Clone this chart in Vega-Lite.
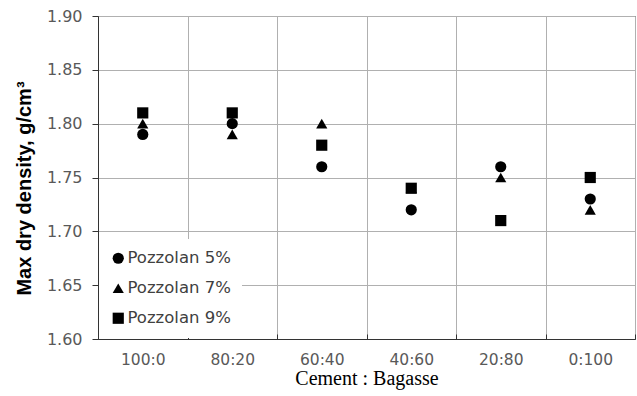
{
  "$schema": "https://vega.github.io/schema/vega-lite/v6.json",
  "width": 537,
  "height": 323,
  "autosize": {"type": "none"},
  "padding": {"left": 98, "top": 16, "right": 2, "bottom": 57},
  "config": {
    "font": "DejaVu Sans",
    "view": {"stroke": "#222222", "strokeWidth": 1}
  },
  "data": {
    "values": [
      {"ratio": "100:0", "mix": "Pozzolan 5%", "density": 1.79},
      {"ratio": "80:20", "mix": "Pozzolan 5%", "density": 1.80},
      {"ratio": "60:40", "mix": "Pozzolan 5%", "density": 1.76},
      {"ratio": "40:60", "mix": "Pozzolan 5%", "density": 1.72},
      {"ratio": "20:80", "mix": "Pozzolan 5%", "density": 1.76},
      {"ratio": "0:100", "mix": "Pozzolan 5%", "density": 1.73},
      {"ratio": "100:0", "mix": "Pozzolan 7%", "density": 1.80},
      {"ratio": "80:20", "mix": "Pozzolan 7%", "density": 1.79},
      {"ratio": "60:40", "mix": "Pozzolan 7%", "density": 1.80},
      {"ratio": "40:60", "mix": "Pozzolan 7%", "density": 1.74},
      {"ratio": "20:80", "mix": "Pozzolan 7%", "density": 1.75},
      {"ratio": "0:100", "mix": "Pozzolan 7%", "density": 1.72},
      {"ratio": "100:0", "mix": "Pozzolan 9%", "density": 1.81},
      {"ratio": "80:20", "mix": "Pozzolan 9%", "density": 1.81},
      {"ratio": "60:40", "mix": "Pozzolan 9%", "density": 1.78},
      {"ratio": "40:60", "mix": "Pozzolan 9%", "density": 1.74},
      {"ratio": "20:80", "mix": "Pozzolan 9%", "density": 1.71},
      {"ratio": "0:100", "mix": "Pozzolan 9%", "density": 1.75}
    ]
  },
  "mark": {"type": "point", "filled": true, "opacity": 1, "color": "black", "size": 125},
  "encoding": {
    "x": {
      "field": "ratio",
      "type": "nominal",
      "sort": ["100:0", "80:20", "60:40", "40:60", "20:80", "0:100"],
      "scale": {"paddingInner": 0, "paddingOuter": 0},
      "axis": {
        "title": "Cement : Bagasse",
        "labelAngle": 0,
        "tickBand": "extent",
        "grid": true,
        "gridColor": "#b0b0b0",
        "domainColor": "#333333",
        "tickColor": "#333333",
        "tickSize": -5,
        "labelPadding": 18,
        "labelFont": "DejaVu Sans",
        "labelFontSize": 15.5,
        "labelColor": "#595959",
        "titleFont": "Liberation Serif",
        "titleFontSize": 20,
        "titleFontWeight": "normal",
        "titleColor": "black",
        "titlePadding": 1
      }
    },
    "y": {
      "field": "density",
      "type": "quantitative",
      "scale": {"domain": [1.6, 1.9], "nice": false, "zero": false},
      "axis": {
        "title": "Max dry density, g/cm³",
        "values": [1.6, 1.65, 1.7, 1.75, 1.8, 1.85, 1.9],
        "format": ".2f",
        "grid": true,
        "gridColor": "#b0b0b0",
        "domainColor": "#333333",
        "tickColor": "#333333",
        "tickSize": 6,
        "labelPadding": 10,
        "labelFont": "DejaVu Sans",
        "labelFontSize": 16,
        "labelColor": "#595959",
        "titleFont": "Liberation Sans",
        "titleFontSize": 20,
        "titleFontWeight": "bold",
        "titleColor": "black",
        "titlePadding": 12,
        "titleY": 172
      }
    },
    "shape": {
      "field": "mix",
      "type": "nominal",
      "scale": {
        "domain": ["Pozzolan 5%", "Pozzolan 7%", "Pozzolan 9%"],
        "range": ["circle", "triangle-up", "square"]
      },
      "legend": {
        "title": null,
        "orient": "bottom-left",
        "offset": 1,
        "fillColor": "white",
        "padding": 11,
        "rowPadding": 13,
        "labelFont": "DejaVu Sans",
        "labelFontSize": 16.5,
        "labelColor": "#404040",
        "labelOffset": 1,
        "symbolSize": 125,
        "symbolFillColor": "black",
        "symbolStrokeColor": "black",
        "symbolStrokeWidth": 0
      }
    }
  }
}
